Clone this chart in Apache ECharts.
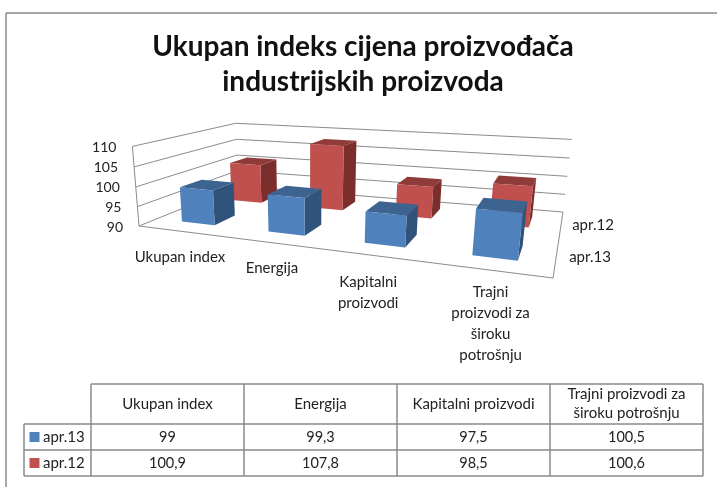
<!DOCTYPE html>
<html>
<head>
<meta charset="utf-8">
<style>html,body{margin:0;padding:0;background:#fff}#main{width:717px;height:487px}</style>
<script src="https://cdn.jsdelivr.net/npm/echarts@6/dist/echarts.min.js"></script>
</head>
<body>
<div id="main"></div>
<script>
var categories = ['Ukupan index', 'Energija', 'Kapitalni proizvodi', 'Trajni proizvodi za široku potrošnju'];
var axisLabels = ['Ukupan index', 'Energija', 'Kapitalni\nproizvodi', 'Trajni\nproizvodi za\nširoku\npotrošnju'];
var headerLabels = ['Ukupan index', 'Energija', 'Kapitalni proizvodi', 'Trajni proizvodi za\nširoku potrošnju'];
var seriesNames = ['apr.13', 'apr.12'];
var apr13 = [99, 99.3, 97.5, 100.5];
var apr12 = [100.9, 107.8, 98.5, 100.6];
var valueTicks = [90, 95, 100, 105, 110];

var FONT = 'Lato';
var TXT = '#222';
var GRID_LINE = '#8c8c8c';
var BORDER = '#8a8a8a';
var BLUE = { front: '#4f81bd', top: '#3d6491', side: '#30537b' };
var RED = { front: '#c0504d', top: '#8f3b39', side: '#7a2f2d' };

// uglovi poda na ekranu (prednji lijevi, prednji desni, zadnji desni, zadnji lijevi)
var floorQuad = [[139, 226], [553, 278], [563, 212], [238, 186]];
// vektor visine u homogenim koordinatama
var UP = [-11.5, -85, -0.037];

// pomak oznaka kategorija
var labelDx = [-1, 0, -6, 1];
var labelDy = [15, 15, 16, 12];

function squareToQuad(q) {
    var x0 = q[0][0], y0 = q[0][1], x1 = q[1][0], y1 = q[1][1];
    var x2 = q[2][0], y2 = q[2][1], x3 = q[3][0], y3 = q[3][1];
    var dx1 = x1 - x2, dx2 = x3 - x2, sx = x0 - x1 + x2 - x3;
    var dy1 = y1 - y2, dy2 = y3 - y2, sy = y0 - y1 + y2 - y3;
    var det = dx1 * dy2 - dx2 * dy1;
    var g = (sx * dy2 - dx2 * sy) / det;
    var h = (dx1 * sy - sx * dy1) / det;
    return function (u, w) {
        return [
            (x1 - x0 + g * x1) * u + (x3 - x0 + h * x3) * w + x0,
            (y1 - y0 + g * y1) * u + (y3 - y0 + h * y3) * w + y0,
            g * u + h * w + 1
        ];
    };
}
var floorMap = squareToQuad(floorQuad);

// u: duz kategorija, w: dubina, t: visina (0-1)
function project(u, w, t) {
    var k = 1 + 0.10 * u; // malo manja perspektiva po kategorijama
    var f = floorMap(1.10 * u / k, w);
    var d = f[2] * k + UP[2] * t;
    return [(f[0] * k + UP[0] * t) / d, (f[1] * k + UP[1] * t) / d];
}

function barItem(row, colors) {
    return function (params, api) {
        var cs = params.coordSys;
        var p = api.coord([api.value(0), api.value(1)]);
        var halfU = api.size([1, 0])[0] * 0.195 / cs.width;
        var u = (p[0] - cs.x) / cs.width;
        var t = (cs.y + cs.height - p[1]) / cs.height;
        var u0 = u - halfU, u1 = u + halfU;
        var w0 = (row + 0.5) / 2 - 0.1, w1 = (row + 0.5) / 2 + 0.1;
        return {
            type: 'group',
            children: [
                { type: 'polygon', shape: { points: [project(u1, w0, 0), project(u1, w1, 0), project(u1, w1, t), project(u1, w0, t)] }, style: { fill: colors.side } },
                { type: 'polygon', shape: { points: [project(u0, w0, t), project(u1, w0, t), project(u1, w1, t), project(u0, w1, t)] }, style: { fill: colors.top } },
                { type: 'polygon', shape: { points: [project(u0, w0, 0), project(u1, w0, 0), project(u1, w0, t), project(u0, w0, t)] }, style: { fill: colors.front } }
            ]
        };
    };
}

function wallItem(params, api) {
    var cs = params.coordSys;
    var p = api.coord([0, api.value(1)]);
    var t = (cs.y + cs.height - p[1]) / cs.height;
    var lineStyle = { stroke: GRID_LINE, fill: null, lineWidth: 1 };
    var corner = project(0, 0, t);
    var children = [
        { type: 'polyline', shape: { points: [corner, project(0, 1, t), project(1, 1, t)] }, style: lineStyle },
        { type: 'text', style: { x: corner[0] - 16, y: corner[1] + 1, text: String(api.value(1)), align: 'right', verticalAlign: 'middle', fontFamily: FONT, fontSize: 14, fill: TXT } }
    ];
    if (params.dataIndex === 0) {
        children.push({ type: 'polyline', shape: { points: [project(0, 0, 1), project(0, 0, 0), project(1, 0, 0), project(1, 1, 0)] }, style: lineStyle });
    }
    return { type: 'group', children: children };
}

function categoryLabelItem(params, api) {
    var cs = params.coordSys;
    var p = api.coord([api.value(0), 90]);
    var pos = project((p[0] - cs.x) / cs.width, 0, 0);
    var i = params.dataIndex;
    return {
        type: 'text',
        style: {
            x: pos[0] + labelDx[i], y: pos[1] + labelDy[i],
            text: axisLabels[i], align: 'center', verticalAlign: 'top',
            fontFamily: FONT, fontSize: 15, lineHeight: 21, fill: TXT
        }
    };
}

function fmt(v) {
    return String(v).replace('.', ',');
}

function tableGraphics() {
    var xs = [91, 244, 397, 550, 703], ys = [384, 424, 450, 476], left = 24;
    var g = [];
    function line(x1, y1, x2, y2) {
        g.push({ type: 'line', shape: { x1: x1, y1: y1, x2: x2, y2: y2 }, style: { stroke: BORDER, lineWidth: 1.5 } });
    }
    function text(x, y, s, align, size) {
        g.push({ type: 'text', x: x, y: y, style: { text: s, align: align || 'center', verticalAlign: 'middle', fontFamily: FONT, fontSize: size || 15, lineHeight: 19, fill: TXT } });
    }
    // okvir grafikona
    line(6, 13, 717, 13);
    line(6, 13, 6, 487);
    line(xs[0], ys[0], xs[4], ys[0]);
    line(left, ys[1], xs[4], ys[1]);
    line(left, ys[2], xs[4], ys[2]);
    line(left, ys[3], xs[4], ys[3]);
    line(left, ys[1], left, ys[3]);
    xs.forEach(function (x) { line(x, ys[0], x, ys[3]); });

    var rows = [apr13, apr12], keys = [BLUE.front, RED.front];
    headerLabels.forEach(function (h, i) {
        text((xs[i] + xs[i + 1]) / 2, (ys[0] + ys[1]) / 2, h);
    });
    rows.forEach(function (values, r) {
        var cy = (ys[r + 1] + ys[r + 2]) / 2;
        g.push({ type: 'rect', shape: { x: 29.5, y: cy - 5, width: 10, height: 10 }, style: { fill: keys[r] } });
        text(43, cy, seriesNames[r], 'left');
        values.forEach(function (v, i) {
            text((xs[i] + xs[i + 1]) / 2, cy, fmt(v), 'center', 14.5);
        });
    });
    // oznake dubine desno od poda
    text(593, 225, seriesNames[1]);
    text(590, 257, seriesNames[0]);
    return g;
}

var myChart = echarts.init(document.getElementById('main'), null, { renderer: 'canvas' });

var option = {
    animation: false,
    backgroundColor: '#fff',
    title: {
        text: 'Ukupan indeks cijena proizvođača\nindustrijskih proizvoda',
        left: 358,
        top: 24,
        textAlign: 'center',
        textStyle: { fontFamily: FONT, fontSize: 28, fontWeight: 'bold', color: '#111', lineHeight: 35 }
    },
    grid: { left: 128, top: 147, width: 400, height: 80 },
    xAxis: { type: 'category', data: categories, show: false },
    yAxis: { type: 'value', min: 90, max: 110, interval: 5, show: false },
    graphic: tableGraphics(),
    series: [
        { type: 'custom', name: 'walls', clip: false, silent: true, renderItem: wallItem, encode: { x: 0, y: 1 },
          data: valueTicks.map(function (v) { return [0, v]; }), z: 1 },
        { type: 'custom', name: seriesNames[1], clip: false, silent: true, renderItem: barItem(1, RED), encode: { x: 0, y: 1 },
          data: apr12.map(function (v, i) { return [i, v]; }), z: 2 },
        { type: 'custom', name: seriesNames[0], clip: false, silent: true, renderItem: barItem(0, BLUE), encode: { x: 0, y: 1 },
          data: apr13.map(function (v, i) { return [i, v]; }), z: 3 },
        { type: 'custom', name: 'labels', clip: false, silent: true, renderItem: categoryLabelItem, encode: { x: 0, y: 1 },
          data: categories.map(function (c, i) { return [i, 90]; }), z: 4 }
    ]
};
myChart.setOption(option);
</script>
</body>
</html>
